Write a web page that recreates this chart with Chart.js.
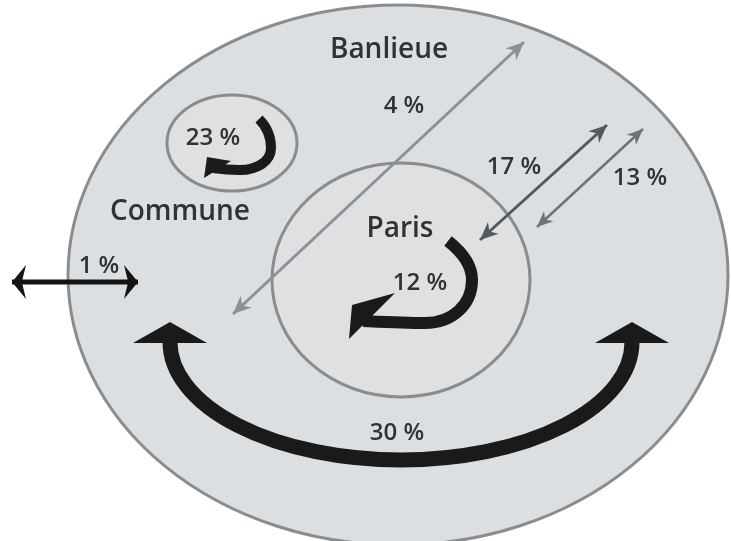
<!DOCTYPE html>
<html>
<head>
<meta charset="utf-8">
<script src="https://cdn.jsdelivr.net/npm/chart.js@4/dist/chart.umd.min.js"></script>
<style>
html,body{margin:0;padding:0;background:#ffffff;}
#wrap{width:731px;height:541px;}
</style>
</head>
<body>
<div id="wrap"><canvas id="c" width="731" height="541"></canvas></div>
<script>
// ---------- data ----------
const zoneNames = ["Banlieue", "Commune", "Paris"];
const flowNames = ["Commune → Commune", "Paris → Paris", "Paris ↔ grande banlieue", "Paris ↔ banlieue", "Banlieue ↔ Paris", "Hors zone", "Banlieue → Banlieue"];
const flowShares = [23, 12, 4, 17, 13, 1, 30];
const pctLabels = flowShares.map(v => v + " %");

// ---------- layout (diagram geometry in axis units, x 0-731, y 0-541) ----------
const zoneShapes = [
  { cx: 398, cy: 275, rx: 330, ry: 270, lx: 389, ly: 50 },
  { cx: 232, cy: 143, rx: 65, ry: 48, lx: 180, ly: 212 },
  { cx: 401, cy: 280, rx: 129, ry: 117, lx: 400, ly: 229 }
];
// straight flows: index into flowShares
const straightFlows = [
  { i: 2, a: [233, 314], b: [524, 42], color: "#8d9195", w: 3, head: [18, 8], lx: 404, ly: 106 },
  { i: 3, a: [480, 240], b: [607, 125], color: "#55595d", w: 3, head: [18, 8], lx: 514, ly: 167 },
  { i: 4, a: [537, 227], b: [643, 129], color: "#6f7377", w: 2.5, head: [16, 7], lx: 640, ly: 178 },
  { i: 5, a: [12, 282], b: [138, 282], color: "#151515", w: 5, head: [14, 17], lx: 99, ly: 266 }
];
// curved loop flows: bezier path + head triangle
const loopFlows = [
  { i: 0, w: 10, start: [259, 119],
    segs: [[267, 127, 271, 138, 271, 148], [271, 162, 256, 170, 240, 170], [228, 170, 220, 169, 213, 168]],
    head: [[207, 157], [231, 161], [204, 178]], lx: 213, ly: 138 },
  { i: 1, w: 12, start: [448, 241],
    segs: [[462, 252, 472, 265, 472, 280], [472, 305, 452, 323, 425, 323], [405, 323, 385, 322, 363, 321]],
    head: [[352, 305], [395, 293], [349, 339]], lx: 420, ly: 283 }
];
const bigFlow = { i: 6, cx: 401, cy: 342, rx: 231, ry: 118, w: 15, headLen: 20, headHalf: 37, lx: 397, ly: 433 };

const FONT = '"Open Sans", "Noto Sans", sans-serif';

// datasets for straight flows: lines drawn by Chart.js
const datasets = straightFlows.map(f => ({
  label: flowNames[f.i],
  data: [{ x: f.a[0], y: f.a[1] }, { x: f.b[0], y: f.b[1] }],
  showLine: true,
  borderColor: f.color,
  borderWidth: f.w,
  pointRadius: 0,
  fill: false
}));

function headShape(ctx, tip, dir, len, half, color) {
  const px = -dir[1], py = dir[0];
  const bx = tip[0] - dir[0] * len, by = tip[1] - dir[1] * len;
  const nx = tip[0] - dir[0] * len * 0.7, ny = tip[1] - dir[1] * len * 0.7;
  ctx.beginPath();
  ctx.moveTo(tip[0], tip[1]);
  ctx.lineTo(bx + px * half, by + py * half);
  ctx.lineTo(nx, ny);
  ctx.lineTo(bx - px * half, by - py * half);
  ctx.closePath();
  ctx.fillStyle = color;
  ctx.fill();
}

const diagram = {
  id: "diagram",
  beforeDatasetsDraw(chart) {
    const ctx = chart.ctx, xs = chart.scales.x, ys = chart.scales.y;
    ctx.save();
    zoneShapes.forEach((z, k) => {
      const cx = xs.getPixelForValue(z.cx), cy = ys.getPixelForValue(z.cy);
      const rx = Math.abs(xs.getPixelForValue(z.cx + z.rx) - cx);
      const ry = Math.abs(ys.getPixelForValue(z.cy + z.ry) - cy);
      ctx.beginPath();
      ctx.ellipse(cx, cy, rx, ry, 0, 0, Math.PI * 2);
      ctx.fillStyle = k === 0 ? "#dcdfe1" : "#dee0e2";
      ctx.fill();
      ctx.lineWidth = 3;
      ctx.strokeStyle = "#8a8c8e";
      ctx.stroke();
    });
    ctx.restore();
  },
  afterDatasetsDraw(chart) {
    const ctx = chart.ctx, xs = chart.scales.x, ys = chart.scales.y;
    const P = (x, y) => [xs.getPixelForValue(x), ys.getPixelForValue(y)];
    ctx.save();
    // heads of straight flows
    straightFlows.forEach(f => {
      const A = P(f.a[0], f.a[1]), B = P(f.b[0], f.b[1]);
      const dx = B[0] - A[0], dy = B[1] - A[1], L = Math.hypot(dx, dy);
      const d = [dx / L, dy / L];
      headShape(ctx, B, d, f.head[0], f.head[1], f.color);
      headShape(ctx, A, [-d[0], -d[1]], f.head[0], f.head[1], f.color);
    });
    // loop flows
    loopFlows.forEach(f => {
      ctx.beginPath();
      const s = P(f.start[0], f.start[1]);
      ctx.moveTo(s[0], s[1]);
      f.segs.forEach(g => {
        const c1 = P(g[0], g[1]), c2 = P(g[2], g[3]), e = P(g[4], g[5]);
        ctx.bezierCurveTo(c1[0], c1[1], c2[0], c2[1], e[0], e[1]);
      });
      ctx.lineWidth = f.w;
      ctx.strokeStyle = "#1a1a1a";
      ctx.lineCap = "butt";
      ctx.lineJoin = "round";
      ctx.stroke();
      ctx.beginPath();
      f.head.forEach((h, k) => {
        const p = P(h[0], h[1]);
        if (k === 0) ctx.moveTo(p[0], p[1]); else ctx.lineTo(p[0], p[1]);
      });
      ctx.closePath();
      ctx.fillStyle = "#1a1a1a";
      ctx.fill();
    });
    // big flow
    {
      const f = bigFlow;
      const C = P(f.cx, f.cy);
      const rx = Math.abs(xs.getPixelForValue(f.cx + f.rx) - C[0]);
      const ry = Math.abs(ys.getPixelForValue(f.cy + f.ry) - C[1]);
      ctx.beginPath();
      ctx.ellipse(C[0], C[1], rx, ry, 0, 0, Math.PI, false);
      ctx.lineWidth = f.w;
      ctx.strokeStyle = "#1a1a1a";
      ctx.lineCap = "butt";
      ctx.stroke();
      [-1, 1].forEach(s => {
        const bx = C[0] + s * rx;
        ctx.beginPath();
        ctx.moveTo(bx, C[1] - f.headLen);
        ctx.lineTo(bx + f.headHalf, C[1] + 1);
        ctx.lineTo(bx - f.headHalf, C[1] + 1);
        ctx.closePath();
        ctx.fillStyle = "#1a1a1a";
        ctx.fill();
      });
    }
    // labels
    ctx.textAlign = "center";
    ctx.textBaseline = "middle";
    ctx.fillStyle = "#303234";
    ctx.font = "600 28px " + FONT;
    zoneShapes.forEach((z, k) => {
      const p = P(z.lx, z.ly);
      ctx.fillText(zoneNames[k], p[0], p[1]);
    });
    ctx.font = "600 24px " + FONT;
    straightFlows.concat(loopFlows, [bigFlow]).forEach(f => {
      const p = P(f.lx, f.ly);
      ctx.fillText(pctLabels[f.i], p[0], p[1]);
    });
    ctx.restore();
  }
};

new Chart(document.getElementById("c"), {
  type: "scatter",
  data: { datasets },
  options: {
    responsive: false,
    animation: false,
    layout: { padding: 0 },
    plugins: { legend: { display: false }, tooltip: { enabled: false }, title: { display: false } },
    scales: {
      x: { type: "linear", min: 0, max: 731, display: false },
      y: { type: "linear", min: 0, max: 541, reverse: true, display: false }
    },
    elements: { line: { tension: 0, borderCapStyle: "butt" } }
  },
  plugins: [diagram]
});
</script>
</body>
</html>
